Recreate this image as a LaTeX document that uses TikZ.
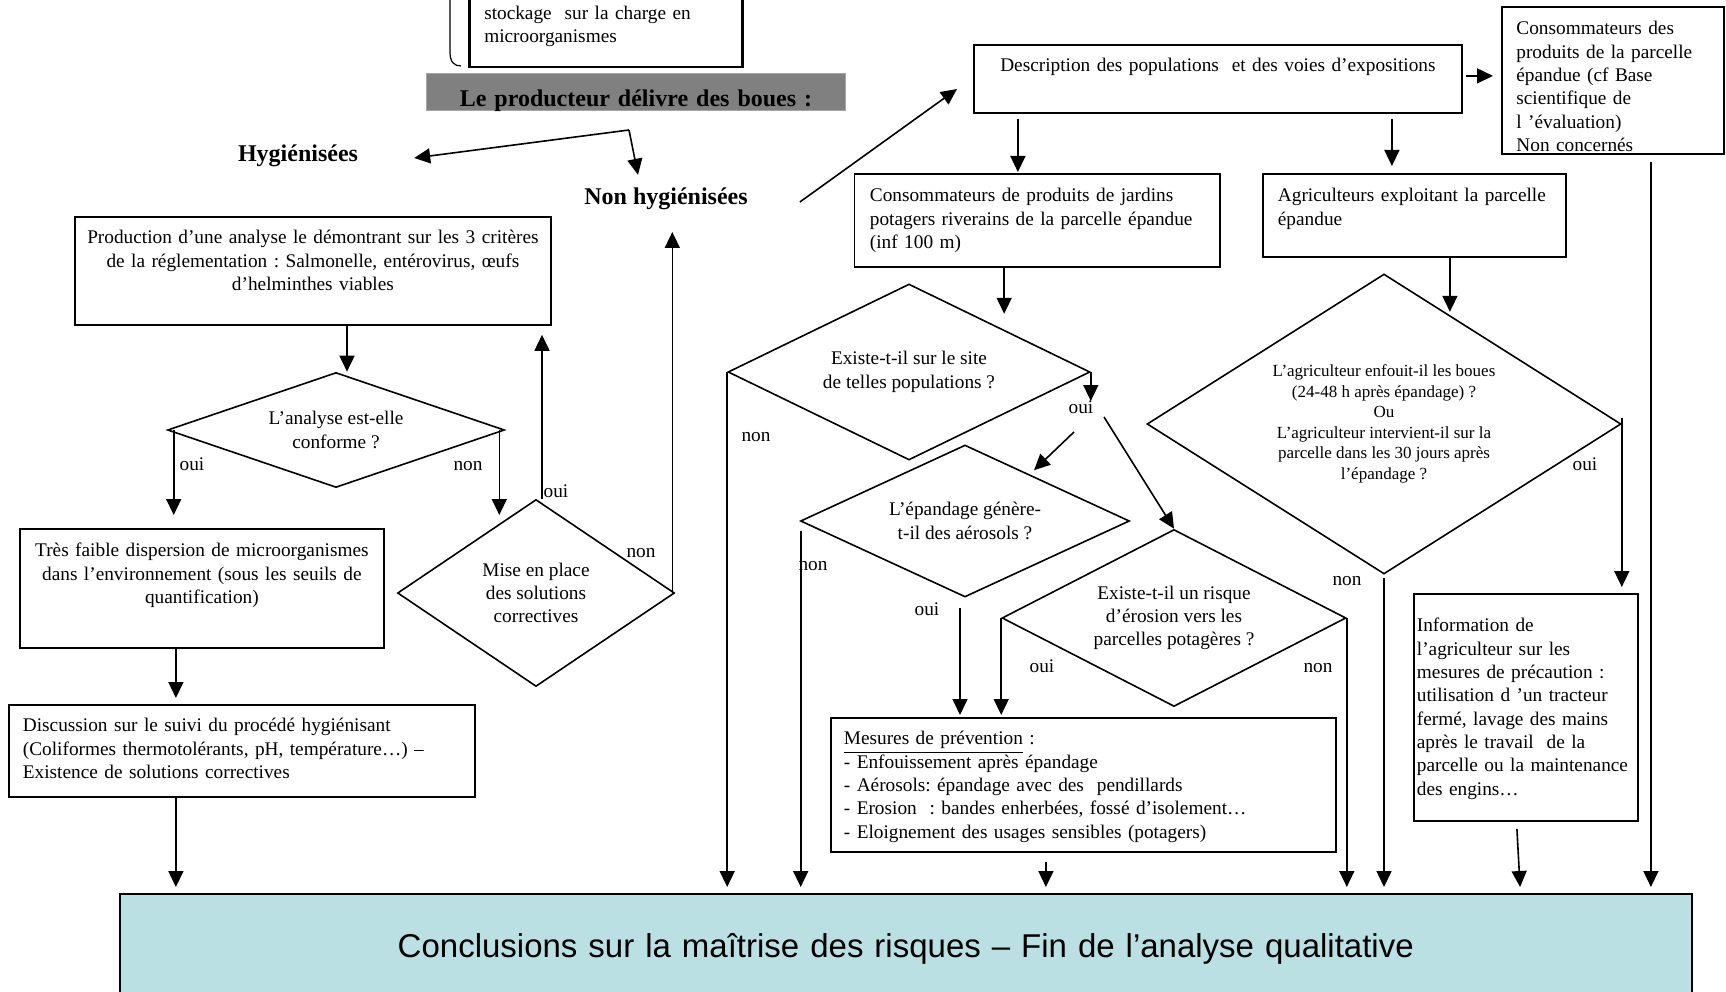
\documentclass[tikz,border=0pt]{standalone}
\usepackage{amsmath}
\usepackage{fontspec}
\setmainfont{Liberation Serif}
\newfontfamily\conclfont{Liberation Sans}
\usepackage{tikz}
\usetikzlibrary{positioning,shapes.geometric,arrows.meta}
\frenchspacing

\definecolor{bannergray}{RGB}{128,128,128}
\definecolor{conclblue}{RGB}{186,224,227}

\begin{document}
\begin{tikzpicture}[
						x=1pt, y=-1pt,
						% Define styles for boxes, diamonds, answers and arrows
						every node/.style={font=\fontsize{19.3}{23.3}\selectfont},
						box style/.style={draw, line width=1.8pt, rectangle, inner ysep=0pt, anchor=north west},
						diamond style/.style={diamond, draw, line width=1.6pt, inner sep=0pt, align=center},
						title style/.style={font=\fontsize{24}{28}\selectfont\bfseries, inner sep=0pt, text height=17pt, text depth=5pt},
						answer style/.style={inner sep=0pt, text height=10pt, text depth=0pt},
						arrow style/.style={line width=1.6pt, -{Triangle[length=16pt,width=15pt]}},
						to concl/.style={arrow style, shorten >=6pt}
						]
						\useasboundingbox (0,0) rectangle (1726,992);
						
						% Define and place your nodes
						\node[box style, line width=2.5pt, text width=243pt, inner xsep=15pt, text height=58pt, text depth=48pt, align=left] (stock) at (468,-40) {stockage\ \ sur la charge en\\ microorganismes};
						\node[fill=bannergray, draw=gray!70, line width=1pt, anchor=north west, inner sep=0pt, text width=419pt, align=center, text height=33pt, text depth=4pt, font=\fontsize{24}{28}\selectfont\bfseries] (boues) at (426,73) {Le producteur délivre des boues :};
						\node[title style] (hyg) at (298,156) {Hygiénisées};
						\node[title style] (nonhyg) at (666,199) {Non hygiénisées};
						\coordinate (split) at (629,130);
						
						% left column: hygienised sludge
						\node[box style, text width=456pt, inner xsep=10pt, text height=27pt, text depth=81pt, align=center] (prod) at (74,216) {Production d’une analyse le démontrant sur les 3 critères\\ de la réglementation : Salmonelle, entérovirus, œufs\\ d’helminthes viables};
						\node[diamond style, minimum width=337pt, minimum height=115pt, aspect=2.9] (analyse) at (336,430) {L’analyse est-elle\\ conforme ?};
						\node[box style, text width=344pt, inner xsep=10pt, text height=28pt, text depth=91pt, align=center] (faible) at (19,528) {Très faible dispersion de microorganismes\\ dans l’environnement (sous les seuils de\\ quantification)};
						\node[box style, text width=438pt, inner xsep=14pt, text height=27pt, text depth=65pt, align=left] (disc) at (8,704) {Discussion sur le suivi du procédé hygiénisant\\ (Coliformes thermotolérants, pH, température…) –\\ Existence de solutions correctives};
						\node[diamond style, minimum width=277pt, minimum height=187pt, aspect=1.5] (mise) at (536,593) {Mise en place\\ des solutions\\ correctives};
						
						% right part: non hygienised sludge
						\node[box style, text width=468pt, inner xsep=10pt, text height=27pt, text depth=41pt, align=center] (desc) at (973,44) {Description des populations\ \ et des voies d’expositions};
						\node[box style, text width=193pt, inner xsep=14.5pt, text height=28pt, text depth=119pt, align=left] (nonconc) at (1501,6) {Consommateurs des\\ produits de la parcelle\\ épandue (cf Base\\ scientifique de\\ l ’évaluation)\\ Non concernés};
						\node[box style, text width=334.5pt, inner xsep=15.5pt, text height=28pt, text depth=65pt, align=left] (jard) at (853.5,173) {Consommateurs de produits de jardins\\ potagers riverains de la parcelle épandue\\ (inf 100 m)};
						\node[box style, text width=273pt, inner xsep=15pt, text height=28pt, text depth=55pt, align=left] (agri) at (1262,173) {Agriculteurs exploitant la parcelle\\ épandue};
						\node[diamond style, minimum width=362pt, minimum height=176pt, aspect=2] (pop) at (909,372) {Existe-t-il sur le site\\ de telles populations ?};
						\node[diamond style, minimum width=329pt, minimum height=152pt, aspect=2.1] (aer) at (965,521) {L’épandage génère-\\ t-il des aérosols ?};
						\node[diamond style, minimum width=344pt, minimum height=177pt, aspect=1.9] (ero) at (1174,618) {Existe-t-il un risque\\ d’érosion vers les\\ parcelles potagères ?};
						\node[diamond style, minimum width=474pt, minimum height=300pt, aspect=1.6, font=\fontsize{17}{20.5}\selectfont] (enfouit) at (1384,424) {L’agriculteur enfouit-il les boues\\ (24-48 h après épandage) ?\\ Ou\\ L’agriculteur intervient-il sur la\\ parcelle dans les 30 jours après\\ l’épandage ?};
						\node[box style, text width=479pt, inner xsep=13pt, text height=27pt, text depth=107pt, align=left] (mes) at (830,717) {\underline{Mesures de prévention} :\\ - Enfouissement après épandage\\ - Aérosols: épandage avec des\ \ pendillards\\ - Erosion\ \ : bandes enherbées, fossé d’isolement…\\ - Eloignement des usages sensibles (potagers)};
						\node[box style, text width=218pt, inner xsep=3pt, text height=38pt, text depth=189pt, align=left] (info) at (1413,593) {\hyphenpenalty=10000 Information de\\ l’agriculteur sur les\\ mesures de précaution :\\ utilisation d ’un tracteur\\ fermé, lavage des mains\\ après le travail\ \ de la\\ parcelle ou la maintenance\\ des engins…};
						\node[anchor=north west, fill=conclblue, draw, line width=1.6pt, inner sep=0pt, text width=1572pt, align=center, text height=64pt, text depth=43pt, font=\conclfont\fontsize{33}{40}\selectfont] (concl) at (119,893) {Conclusions sur la maîtrise des risques – Fin de l’analyse qualitative};
						
						% answers
						\node[answer style] (oui1) at (192,465) {oui};
						\node[answer style] (non1) at (468,465) {non};
						\node[answer style] (oui2) at (556,492) {oui};
						\node[answer style] (non2) at (641,552) {non};
						\node[answer style] (non3) at (756,436) {non};
						\node[answer style] (oui3) at (1081,408) {oui};
						\node[answer style] (non4) at (813,565) {non};
						\node[answer style] (oui4) at (927,610) {oui};
						\node[answer style] (oui5) at (1042,667) {oui};
						\node[answer style] (non5) at (1318,667) {non};
						\node[answer style] (non6) at (1347,580) {non};
						\node[answer style] (oui6) at (1585,465) {oui};
						
						% bracket beside the first box
						\draw[line width=1.2pt] (450,-5) -- (450,52) .. controls (450,62) and (454,66) .. (461,66);
						
						% --- Draw the edges ---
						\draw[arrow style] (split) -- ([shift={(56,2)}]hyg.east);
						\draw[arrow style] (split) -- ([shift={(-28,-13)}]nonhyg.north);
						\draw[arrow style] ([shift={(52,3)}]nonhyg.east) -- ([shift={(-16,45)}]desc.north west);
						
						\draw[arrow style] ([xshift=11pt]prod.south -| analyse.north) -- ([xshift=11pt]analyse.north);
						\draw[arrow style, shorten >=13pt] ([xshift=7pt]analyse.west) -- ([xshift=7pt]analyse.west |- faible.north);
						\draw[arrow style] ([xshift=-6pt]analyse.east) -- ++(0,85);
						\draw[arrow style, shorten >=6pt] ([xshift=-26pt]faible.south) -- ([xshift=-26pt]faible.south |- disc.north);
						\draw[to concl] ([xshift=-66pt]disc.south) -- ([xshift=-66pt]disc.south |- concl.north);
						\draw[arrow style, shorten >=9pt] ([xshift=6pt]mise.north) -- ([xshift=6pt]mise.north |- prod.south);
						\draw[arrow style] ([xshift=-3pt]mise.east) -- ++(0,-361);
						
						\draw[arrow style] ([shift={(3,-3)}]desc.east) -- ([shift={(-8,-3)}]nonconc.west |- desc.east);
						\draw[arrow style, shorten <=5pt, shorten >=1pt] ([xshift=-200pt]desc.south) -- ([xshift=-200pt]desc.south |- jard.north);
						\draw[arrow style, shorten <=5pt, shorten >=7pt] ([xshift=174pt]desc.south) -- ([xshift=174pt]desc.south |- agri.north);
						\draw[to concl, shorten <=7pt] ([xshift=38pt]nonconc.south) -- ([xshift=38pt]nonconc.south |- concl.north);
						\draw[arrow style] ([xshift=-33pt]jard.south) -- ++(0,46);
						\draw[to concl] (pop.west) -- (pop.west |- concl.north);
						\draw[arrow style] (pop.east) -- ++(0,29);
						\draw[arrow style] ([shift={(-7,24)}]oui3.center) -- ([shift={(69,26)}]aer.north);
						\draw[arrow style] ([shift={(23,9)}]oui3.center) -- (ero.north);
						\draw[to concl] ([shift={(1,10)}]aer.west) -- ([xshift=1pt]aer.west |- concl.north);
						\draw[arrow style, shorten >=2pt] ([shift={(-5,10)}]aer.south) -- ([xshift=-5pt]aer.south |- mes.north);
						\draw[arrow style, shorten >=2pt] (ero.west) -- (ero.west |- mes.north);
						\draw[to concl] (ero.east) -- (ero.east |- concl.north);
						\draw[to concl] ([shift={(-37.5,9)}]mes.south) -- ([xshift=-37.5pt]mes.south |- concl.north);
						\draw[arrow style] ([xshift=35.5pt]agri.south) -- ++(0,54);
						\draw[to concl, shorten <=3pt] (enfouit.south) -- (enfouit.south |- concl.north);
						\draw[arrow style, shorten >=6pt] ([yshift=6pt]enfouit.east) -- (enfouit.east |- info.north);
						\draw[to concl] ([shift={(-9,7)}]info.south) -- ([xshift=-5.5pt]info.south |- concl.north);
					\end{tikzpicture}
\end{document}
